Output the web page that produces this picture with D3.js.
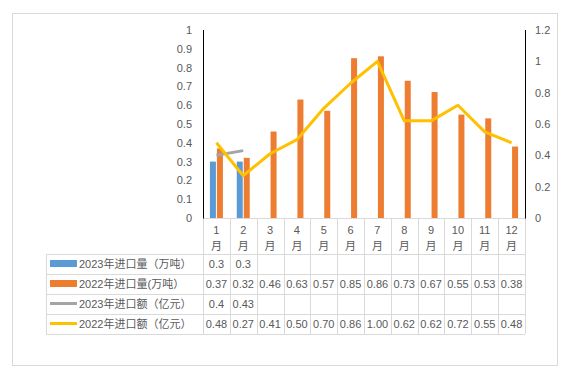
<!DOCTYPE html>
<html><head><meta charset="utf-8">
<script src="https://cdn.jsdelivr.net/npm/d3@7"></script>
<style>body{margin:0;background:#fff}svg{display:block}text{font-family:"Liberation Sans","Noto Sans CJK SC",sans-serif;fill:#595959}</style>
</head><body><svg id="c" width="572" height="380"></svg>
<script>
const months = ["1","2","3","4","5","6","7","8","9","10","11","12"];
const vol2023 = [0.3, 0.3];
const vol2022 = [0.37,0.32,0.46,0.63,0.57,0.85,0.86,0.73,0.67,0.55,0.53,0.38];
const amt2023 = [0.4, 0.43];
const amt2022 = [0.48,0.27,0.41,0.50,0.70,0.86,1.00,0.62,0.62,0.72,0.55,0.48];
const seriesNames = ["2023年进口量（万吨）","2022年进口量(万吨）","2023年进口额（亿元）","2022年进口额（亿元）"];
const leftTicks = [0,0.1,0.2,0.3,0.4,0.5,0.6,0.7,0.8,0.9,1];
const rightTicks = [0,0.2,0.4,0.6,0.8,1,1.2];
const colors = ["#5B9BD5","#ED7D31","#A5A5A5","#FFC000"];

const svg = d3.select("#c");
const L = 203, R = 525, T = 30, B = 218;
const grid = "#D9D9D9";
svg.append("rect").attr("x",12.5).attr("y",13.5).attr("width",545).attr("height",352).attr("fill","#fff").attr("stroke",grid);

const x = d3.scaleBand().domain(months).range([L,R]);
const yL = d3.scaleLinear().domain([0,1]).range([B,T]);
const yR = d3.scaleLinear().domain([0,1.2]).range([B,T]);

// axes labels
leftTicks.forEach(v=>{
  svg.append("text").attr("x",192).attr("y",yL(v)+4).attr("text-anchor","end").attr("font-size",11).text(d3.format("")(+v.toFixed(1)));
});
rightTicks.forEach(v=>{
  svg.append("text").attr("x",535).attr("y",yR(v)+4).attr("font-size",11).text(+v.toFixed(1));
});

// table rows
const rowTops = [254,274,294,314,334];
const tl = 46;
rowTops.forEach(y=>svg.append("line").attr("x1",tl).attr("x2",R).attr("y1",y+0.5).attr("y2",y+0.5).attr("stroke",grid));
svg.append("line").attr("x1",tl+0.5).attr("x2",tl+0.5).attr("y1",254).attr("y2",334).attr("stroke",grid);
svg.append("line").attr("x1",L).attr("x2",R).attr("y1",B+0.5).attr("y2",B+0.5).attr("stroke",grid);
months.forEach((m,i)=>{
  const xx = x(m)+x.bandwidth();
  svg.append("line").attr("x1",Math.round(xx)+0.5).attr("x2",Math.round(xx)+0.5).attr("y1",B).attr("y2",334).attr("stroke",grid);
});
svg.append("line").attr("x1",L+0.5).attr("x2",L+0.5).attr("y1",B).attr("y2",334).attr("stroke",grid);

// category labels
months.forEach(m=>{
  const cx = x(m)+x.bandwidth()/2;
  svg.append("text").attr("x",cx).attr("y",234).attr("text-anchor","middle").attr("font-size",11).text(m);
  svg.append("text").attr("x",cx).attr("y",250).attr("text-anchor","middle").attr("font-size",11).text("月");
});

// bars
const bw = 6;
svg.append("g").selectAll("rect").data(vol2023).join("rect")
  .attr("x",(d,i)=>x(months[i])+x.bandwidth()/2-bw-0.5).attr("width",bw)
  .attr("y",d=>yL(d)).attr("height",d=>B-yL(d)).attr("fill",colors[0]);
svg.append("g").selectAll("rect").data(vol2022).join("rect")
  .attr("x",(d,i)=>x(months[i])+x.bandwidth()/2+0.5).attr("width",bw)
  .attr("y",d=>yL(d)).attr("height",d=>B-yL(d)).attr("fill",colors[1]);

// lines
const line = d3.line().x((d,i)=>x(months[i])+x.bandwidth()/2).y(d=>yR(d));
svg.append("path").datum(amt2023).attr("d",line).attr("fill","none").attr("stroke",colors[2]).attr("stroke-width",3).attr("stroke-linejoin","round");
svg.append("path").datum(amt2022).attr("d",line).attr("fill","none").attr("stroke",colors[3]).attr("stroke-width",3).attr("stroke-linejoin","round");

// axis lines
svg.append("line").attr("x1",L+0.5).attr("x2",L+0.5).attr("y1",T).attr("y2",B+0.5).attr("stroke","#000");
svg.append("line").attr("x1",R+0.5).attr("x2",R+0.5).attr("y1",T).attr("y2",B+0.5).attr("stroke","#000");

// table contents
const tableData = [vol2023, vol2022, amt2023, amt2022];
const fmts = [v=>String(v), v=>v.toFixed(2), v=>String(v), v=>v.toFixed(2)];
tableData.forEach((arr,r)=>{
  const cy = rowTops[r]+14;
  if(r<2) svg.append("rect").attr("x",50).attr("y",cy-8).attr("width",27).attr("height",7).attr("fill",colors[r]);
  else svg.append("line").attr("x1",50).attr("x2",77).attr("y1",cy-4.5).attr("y2",cy-4.5).attr("stroke",colors[r]).attr("stroke-width",3);
  svg.append("text").attr("x",79).attr("y",cy).attr("font-size",11).text(seriesNames[r]);
  arr.forEach((v,i)=>{
    svg.append("text").attr("x",x(months[i])+x.bandwidth()/2).attr("y",cy).attr("text-anchor","middle").attr("font-size",11).text(fmts[r](v));
  });
});
</script></body></html>
